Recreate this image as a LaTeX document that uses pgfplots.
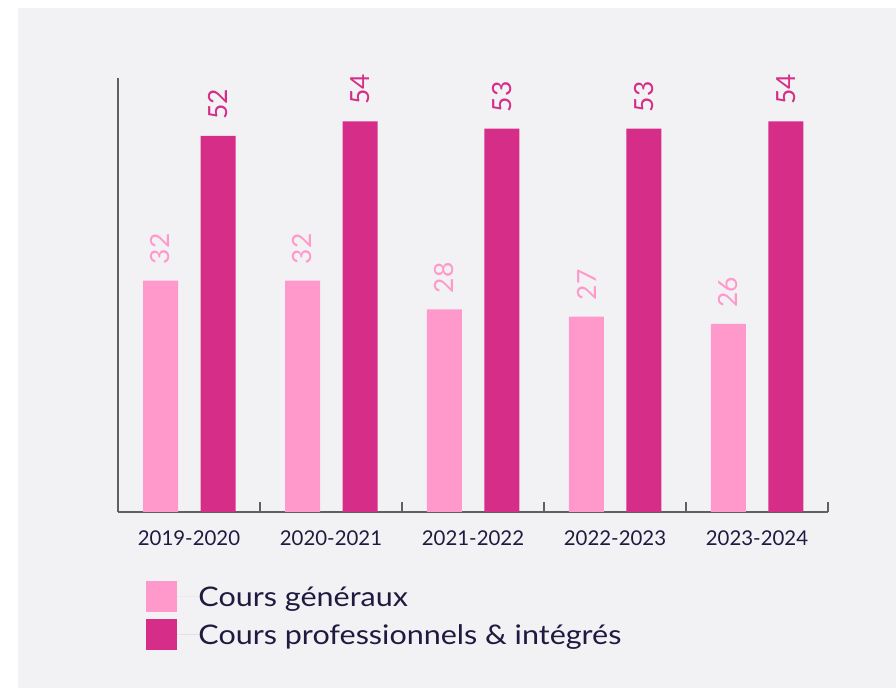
\documentclass[border=0pt]{standalone}
\usepackage{pgfplots}
\pgfplotsset{compat=1.18}
\usepackage{fontspec}
\setmainfont{Lato}
\newfontfamily\legendfont[FakeStretch=1.13]{Lato}
\definecolor{lightpink}{HTML}{FF99CC}
\definecolor{darkpink}{HTML}{D62E88}
\definecolor{navy}{HTML}{1F1B40}
\definecolor{panel}{HTML}{F2F2F4}
\definecolor{axisgray}{HTML}{606060}
\begin{document}
\begin{tikzpicture}
\fill[white] (0pt,0pt) rectangle (448pt,-344pt);
\fill[panel] (9pt,-4pt) rectangle (448pt,-344pt);
\begin{axis}[
  at={(59pt,-256pt)}, anchor=south west,
  scale only axis, width=355pt, height=217pt,
  xmin=-0.5, xmax=4.5, ymin=0, ymax=60,
  axis x line*=bottom, axis y line*=left,
  axis line style={-, axisgray, line width=0.75pt},
  ytick=\empty,
  xtick={0.5,1.5,2.5,3.5,4.5},
  xticklabels={},
  xtick align=inside,
  major tick length=-5pt,
  xtick style={axisgray, line width=0.75pt},
  extra x ticks={0,1,2,3,4},
  extra x tick labels={2019-2020,2020-2021,2021-2022,2022-2023,2023-2024},
  extra x tick style={major tick length=0pt, xticklabel style={font=\fontsize{10.2}{12}\selectfont, text=navy, yshift=-6pt}},
  /pgf/number format/assume math mode=true,
  ybar, bar width=17.5pt,
  nodes near coords,
  nodes near coords style={font=\fontsize{13.2}{14}\selectfont, yshift=8pt, rotate=90, anchor=west, inner sep=0pt},
  legend style={at={(0.0401,-0.159)}, anchor=north west, draw=none, fill=none,
    inner sep=0pt, outer sep=0pt, row sep=3.75pt,
    font=\legendfont\fontsize{13.5}{15}\selectfont, text=navy,
    nodes={inner sep=0pt, text depth=0pt}},
  legend cell align=left,
  legend image code/.code={\fill[#1] (0pt,-7.75pt) rectangle (15.5pt,7.75pt); \path (0pt,0pt) -- (26pt,0pt);},
]
\addplot[fill=lightpink, draw=none, bar shift=-14.25pt, nodes near coords style={text=lightpink}]
  coordinates {(0,32) (1,32) (2,28) (3,27) (4,26)};
\addplot[fill=darkpink, draw=none, bar shift=14.5pt, nodes near coords style={text=darkpink}]
  coordinates {(0,52) (1,54) (2,53) (3,53) (4,54)};
\legend{Cours généraux, Cours professionnels \& intégrés}
\end{axis}
\end{tikzpicture}
\end{document}
